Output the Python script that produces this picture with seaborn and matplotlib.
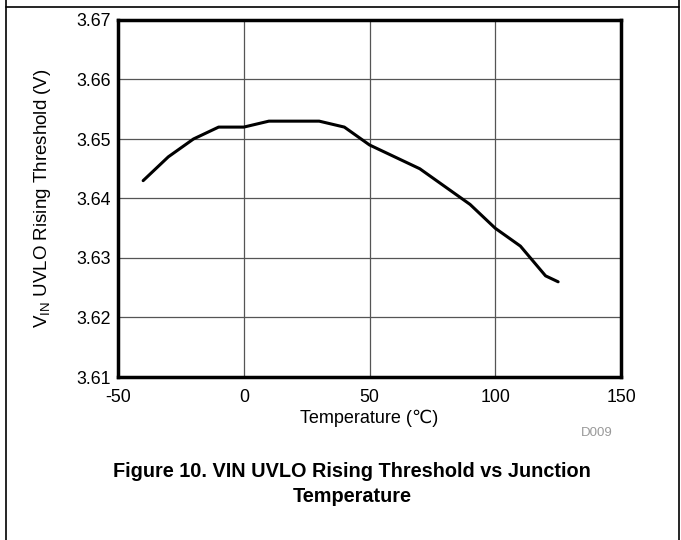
import matplotlib
matplotlib.use('Agg')
import matplotlib.pyplot as plt
import seaborn as sns
from matplotlib.lines import Line2D

# Data
temperature = [-40, -30, -20, -10, 0, 10, 20, 30, 40, 50, 60, 70, 80, 90, 100, 110, 120, 125]
threshold = [3.643, 3.647, 3.650, 3.652, 3.652, 3.653, 3.653, 3.653, 3.652, 3.649,
             3.647, 3.645, 3.642, 3.639, 3.635, 3.632, 3.627, 3.626]

x_ticks = [-50, 0, 50, 100, 150]
y_ticks = [3.61, 3.62, 3.63, 3.64, 3.65, 3.66, 3.67]

sns.set_style('white')
plt.rcParams['font.family'] = ['Liberation Sans', 'DejaVu Sans']
plt.rcParams['text.color'] = 'black'
plt.rcParams['axes.labelcolor'] = 'black'

fig = plt.figure(figsize=(6.81, 5.40), dpi=100)
ax = fig.add_axes([118 / 681, 163 / 540, 503 / 681, 357 / 540])

sns.lineplot(x=temperature, y=threshold, ax=ax, color='black', linewidth=2.2)

ax.set_xlim(-50, 150)
ax.set_ylim(3.61, 3.67)
ax.set_xticks(x_ticks)
ax.set_yticks(y_ticks)
ax.set_xticklabels([str(t) for t in x_ticks])
ax.set_yticklabels(['%.2f' % v for v in y_ticks])
ax.tick_params(axis='both', labelsize=12.8, length=0, colors='black')
ax.tick_params(axis='x', pad=9)
ax.tick_params(axis='y', pad=5)
ax.grid(True, color='#555555', linewidth=0.9)
for s in ax.spines.values():
    s.set_visible(True)
    s.set_color('black')
    s.set_linewidth(2.5)

ax.set_xlabel('Temperature (\u2103)', fontsize=13, labelpad=2)
ax.set_ylabel(r'V$_{\mathregular{IN}}$ UVLO Rising Threshold (V)', fontsize=13.5, labelpad=17)

fig.text(597 / 681, 1 - 433 / 540, 'D009', fontsize=9.5, color='#999999', ha='center', va='center')
fig.text(352 / 681, 1 - 484 / 540, 'Figure 10. VIN UVLO Rising Threshold vs Junction\nTemperature',
         fontsize=14.3, fontweight='bold', ha='center', va='center', linespacing=1.45)

# outer frame
fig.add_artist(Line2D([6 / 681, 679 / 681], [1 - 7 / 540, 1 - 7 / 540], color='black', lw=1.2))
fig.add_artist(Line2D([6 / 681, 6 / 681], [0, 1], color='black', lw=1.2))
fig.add_artist(Line2D([679 / 681, 679 / 681], [0, 1], color='black', lw=1.2))

fig.savefig('out.png', dpi=100)
